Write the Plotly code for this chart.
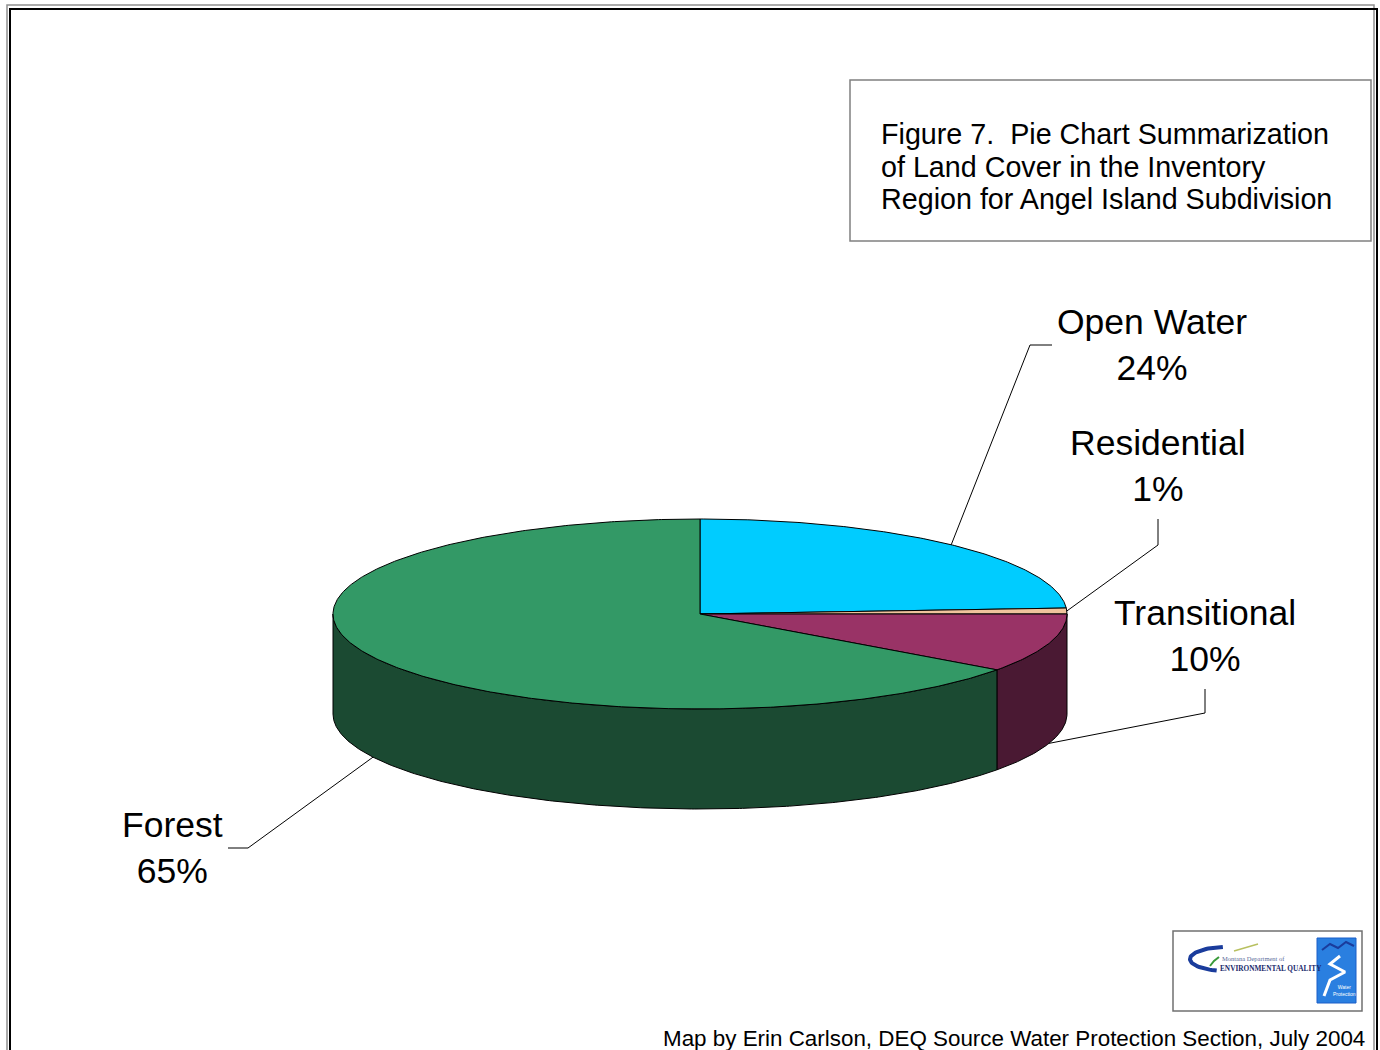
import numpy as np
import plotly.graph_objects as go

# ---------------- data ----------------
categories = ["Open Water", "Residential", "Transitional", "Forest"]
percent = [24, 1, 10, 65]
top_colors = ["#00CCFF", "#F0C49C", "#993366", "#339966"]
side_colors = ["#0099BF", "#B8906C", "#4A1933", "#1B4A32"]

title_lines = ["Figure 7.\u00a0\u00a0Pie Chart Summarization",
               "of Land Cover in the Inventory",
               "Region for Angel Island Subdivision"]
credit = "Map by Erin Carlson, DEQ Source Water Protection Section, July 2004"

# ---------------- layout constants (page pixel space) ----------------
W, H = 1380, 1050
CX, CY, RX, RY, DEPTH = 700, 614, 367, 95, 100
label_pos = {"Open Water": (1152, 345), "Residential": (1158, 466),
             "Transitional": (1205, 636), "Forest": (172, 848)}
leader_elbow = {"Open Water": [(1052, 345), (1030, 345)],
                "Residential": [(1158, 519), (1158, 545)],
                "Transitional": [(1205, 689), (1205, 713)],
                "Forest": [(228, 848), (248, 848)]}
FONT = "Liberation Sans, Arial"


def arc(t0, t1, dy=0.0, n=None):
    if n is None:
        n = max(int(abs(t1 - t0)) * 2 + 2, 3)
    t = np.radians(np.linspace(t0, t1, n))
    return CX + RX * np.sin(t), CY - RY * np.cos(t) + dy


fig = go.Figure()

starts = np.concatenate([[0], np.cumsum(percent)[:-1]]) * 3.6
ends = np.cumsum(percent) * 3.6

# side walls (visible front half only)
for cat, s, e, col in zip(categories, starts, ends, side_colors):
    a0, a1 = max(s, 90), min(e, 270)
    if a1 <= a0:
        continue
    xt, yt = arc(a0, a1)
    xb, yb = arc(a1, a0, DEPTH)
    fig.add_trace(go.Scatter(x=np.concatenate([xt, xb, xt[:1]]),
                             y=np.concatenate([yt, yb, yt[:1]]),
                             mode="lines", fill="toself", fillcolor=col,
                             line=dict(color="black", width=1),
                             hoverinfo="skip", showlegend=False))

# top faces
for cat, s, e, col, p in zip(categories, starts, ends, top_colors, percent):
    xt, yt = arc(s, e)
    fig.add_trace(go.Scatter(x=np.concatenate([[CX], xt, [CX]]),
                             y=np.concatenate([[CY], yt, [CY]]),
                             mode="lines", fill="toself", fillcolor=col,
                             line=dict(color="black", width=1),
                             name=cat, text=f"{cat}: {p}%", hoverinfo="text",
                             showlegend=False))

# leader lines and labels
for cat, s, e, p in zip(categories, starts, ends, percent):
    m = np.radians((s + e) / 2)
    px = CX + RX * np.sin(m)
    py = CY - RY * np.cos(m) + (DEPTH if np.cos(m) < 0 else 0)
    pts = leader_elbow[cat] + [(px, py)]
    fig.add_trace(go.Scatter(x=[q[0] for q in pts], y=[q[1] for q in pts],
                             mode="lines", line=dict(color="black", width=1),
                             hoverinfo="skip", showlegend=False))
    lx, ly = label_pos[cat]
    fig.add_annotation(x=lx, y=ly, text=f"{cat}<br>{p}%", showarrow=False,
                       xanchor="center", yanchor="middle",
                       font=dict(family=FONT, size=35.5, color="black"))

# title box
fig.add_shape(type="rect", x0=850, y0=80, x1=1371, y1=241,
              line=dict(color="#808080", width=1.5), fillcolor="white", layer="below")
for i, t in enumerate(title_lines):
    fig.add_annotation(x=879, y=134 + i * 32.5, text=t, showarrow=False,
                       xanchor="left", yanchor="middle",
                       font=dict(family=FONT, size=28.7, color="black"))

# credit
fig.add_annotation(x=1367, y=1038, text=credit, showarrow=False,
                   xanchor="right", yanchor="middle",
                   font=dict(family=FONT, size=22.4, color="black"))

# frame
fig.add_shape(type="rect", x0=7, y0=5, x1=1374, y1=1070,
              line=dict(color="#909090", width=1.5), layer="below")
fig.add_shape(type="rect", x0=10, y0=9, x1=1377, y1=1070,
              line=dict(color="black", width=2), layer="below")

# logo
fig.add_shape(type="rect", x0=1173, y0=931, x1=1362, y1=1011,
              line=dict(color="#707070", width=1.5), fillcolor="white", layer="below")
tt = np.radians(np.linspace(95, 255, 40))
fig.add_trace(go.Scatter(x=1226 + 36 * np.cos(tt), y=959 - 12 * np.sin(tt),
                         mode="lines", line=dict(color="#1A3C9C", width=4),
                         hoverinfo="skip", showlegend=False))
fig.add_trace(go.Scatter(x=[1234, 1245, 1258], y=[951, 948, 944],
                         mode="lines", line=dict(color="#B8C060", width=1.5),
                         hoverinfo="skip", showlegend=False))
fig.add_trace(go.Scatter(x=[1210, 1214, 1219], y=[966, 961, 957],
                         mode="lines", line=dict(color="#3A9A3A", width=2),
                         hoverinfo="skip", showlegend=False))
fig.add_annotation(x=1220, y=958, text="Montana Department of", showarrow=False,
                   xanchor="left", yanchor="middle",
                   font=dict(family="Liberation Serif", size=6.5, color="#5A6A9A"))
fig.add_annotation(x=1218, y=968, text="<b>ENVIRONMENTAL QUALITY</b>", showarrow=False,
                   xanchor="left", yanchor="middle",
                   font=dict(family="Liberation Serif", size=7.3, color="#1A2A6C"))
fig.add_shape(type="rect", x0=1317, y0=938, x1=1356, y1=1003,
              line=dict(color="#1A5FC8", width=1), fillcolor="#2A7FE0", layer="below")
fig.add_trace(go.Scatter(x=[1322, 1330, 1338, 1346, 1354], y=[950, 944, 948, 942, 946],
                         mode="lines", line=dict(color="#1A3C9C", width=2),
                         hoverinfo="skip", showlegend=False))
fig.add_trace(go.Scatter(x=[1340, 1330, 1345, 1330, 1324], y=[956, 964, 972, 980, 996],
                         mode="lines", line=dict(color="white", width=3),
                         hoverinfo="skip", showlegend=False))
fig.add_annotation(x=1344, y=990, text="Water<br>Protection", showarrow=False,
                   xanchor="center", yanchor="middle",
                   font=dict(family="Liberation Sans", size=5, color="white"))

fig.update_xaxes(range=[0, W], visible=False, fixedrange=True)
fig.update_yaxes(range=[H, 0], visible=False, fixedrange=True)
fig.update_layout(width=W, height=H, margin=dict(l=0, r=0, t=0, b=0),
                  paper_bgcolor="white", plot_bgcolor="white", showlegend=False)

fig.write_html("out.html", config={"displayModeBar": False},
               post_script="document.body.style.margin='0';document.body.style.overflow='hidden';")
